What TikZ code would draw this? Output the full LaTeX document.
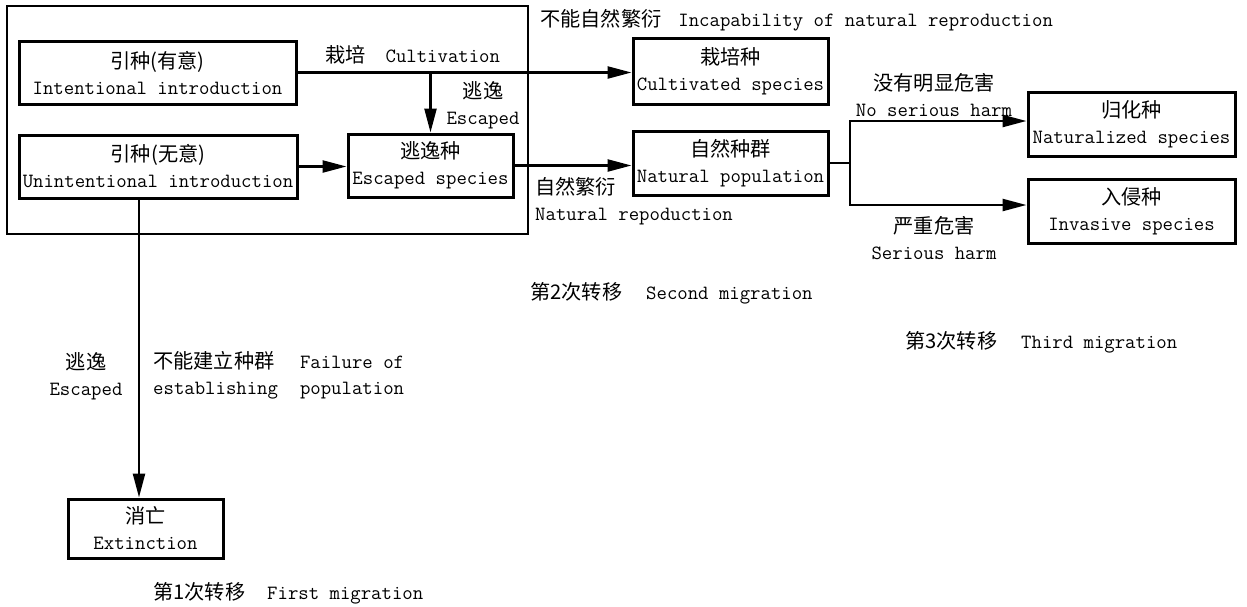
\documentclass[tikz,border=0pt]{standalone}
\usepackage{fontspec}
\newfontfamily\cjk{Noto Sans CJK SC}
\usetikzlibrary{arrows.meta}
\newcommand\zh[1]{{\cjk #1}}
\begin{document}
\begin{tikzpicture}[x=1pt,y=-1pt,
  every node/.style={font=\ttfamily\fontsize{20.2}{26}\selectfont, inner sep=0pt},
  box/.style={draw, line width=3pt, align=center},
  conn/.style={line width=2.4pt},
  arr/.style={conn, -{Triangle[length=24pt,width=12pt]}},
  lbl/.style={align=center}]
\useasboundingbox (0,0) rectangle (1247,606);
% outer frame
\node[draw, line width=2pt, minimum width=521pt, minimum height=228pt] (outer) at (267.5,120) {};
% boxes
\node[box, minimum width=277pt, minimum height=63pt] (intro1) at (157.5,72.5) {\zh{引种(有意)}\\Intentional introduction};
\node[box, minimum width=278pt, minimum height=63pt] (intro2) at (158,166.5) {\zh{引种(无意)}\\Unintentional introduction};
\node[box, minimum width=165pt, minimum height=63pt] (escsp) at (430.5,165.5) {\zh{逃逸种}\\Escaped species};
\node[box, minimum width=195pt, minimum height=66pt] (cultsp) at (730.5,71.5) {\zh{栽培种}\\Cultivated species};
\node[box, minimum width=195pt, minimum height=64pt] (natpop) at (730.5,163) {\zh{自然种群}\\Natural population};
\node[box, minimum width=207pt, minimum height=64pt] (natur) at (1131.5,124) {\zh{归化种}\\Naturalized species};
\node[box, minimum width=207pt, minimum height=64pt] (invas) at (1131.5,211) {\zh{入侵种}\\Invasive species};
\node[box, minimum width=155pt, minimum height=59pt] (extinct) at (145.5,528.5) {\zh{消亡}\\Extinction};
% connectors
\draw[arr] (intro1.east) -- (intro1.east -| cultsp.west);
\draw[arr] (intro1.east -| escsp.north) -- (escsp.north);
\draw[arr] (intro2.east) -- (intro2.east -| escsp.west);
\draw[arr] (escsp.east) -- (escsp.east -| natpop.west);
\coordinate (j) at (850,163);
\coordinate (jt) at (850,121);
\coordinate (jb) at (850,205);
\draw[conn] (natpop.east) -- (j);
\draw[arr] (j) -- (jt) -- (jt -| natur.west);
\draw[arr] (j) -- (jb) -- (jb -| invas.west);
\coordinate (dx) at (139,0);
\draw[arr] (intro2.south -| dx) -- (extinct.north -| dx);
% labels
\node[anchor=west] (lcult) at (325,55) {\zh{栽培}\hspace{20pt}Cultivation};
\node[lbl] (lesc) at (483,105) {\zh{逃逸}\\Escaped};
\node[anchor=west] (lincap) at (540,20) {\zh{不能自然繁衍}\hspace{17pt}Incapability of natural reproduction};
\node[anchor=west, align=left] (lnat) at (535,201) {\zh{自然繁衍}\\Natural repoduction};
\node[lbl] (lnoharm) at (934,95) {\zh{没有明显危害}\\No serious harm};
\node[lbl] (lserious) at (934,238) {\zh{严重危害}\\Serious harm};
\node[lbl] (lesc2) at (86,376) {\zh{逃逸}\\Escaped};
\node[anchor=west] (lfail) at (153,376) {\begin{tabular}{@{}l@{\hspace{22pt}}l@{}}\zh{不能建立种群} & Failure of\\ establishing & population\end{tabular}};
\node[anchor=west] (m1) at (153,593) {\zh{第1次转移}\hspace{22pt}First migration};
\node[anchor=west] (m2) at (530,293) {\zh{第2次转移}\hspace{24pt}Second migration};
\node[anchor=west] (m3) at (905,342) {\zh{第3次转移}\hspace{24pt}Third migration};
\end{tikzpicture}
\end{document}
